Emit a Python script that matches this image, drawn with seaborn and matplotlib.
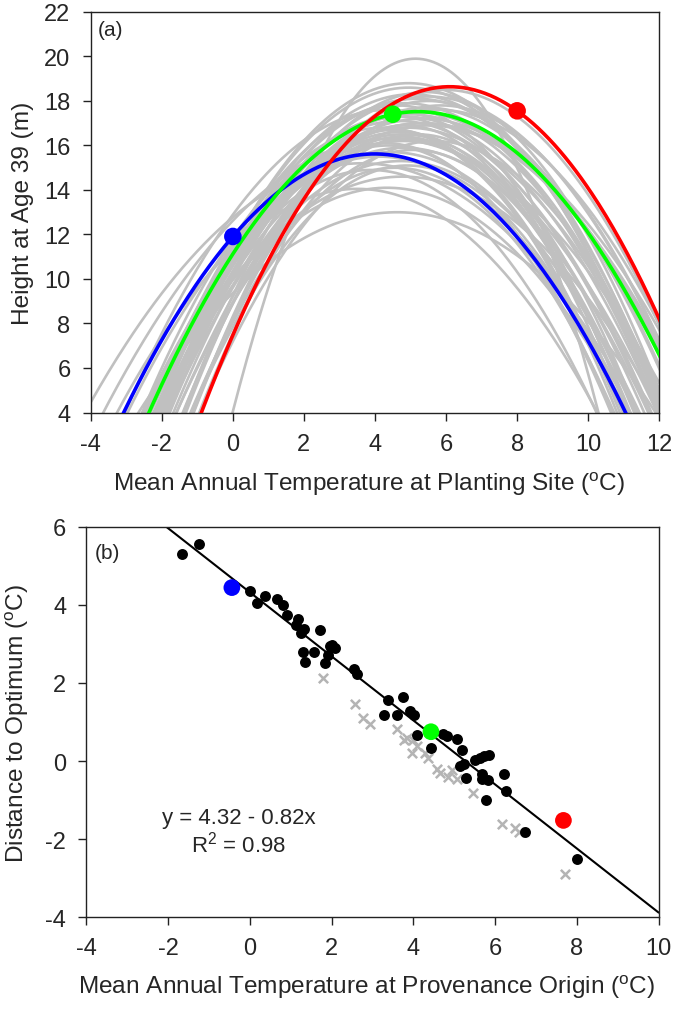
import numpy as np
import pandas as pd
import matplotlib
matplotlib.use("Agg")
import matplotlib.pyplot as plt
import seaborn as sns

# ---------------------------------------------------------------
# (a) quadratic height responses, one per provenance
#     optimum temperature, height at optimum, curvature
# ---------------------------------------------------------------
grey_opt = [3.62, 4.29, 4.34, 4.21, 4.59, 4.79, 4.77, 4.63, 4.81, 4.57,
            4.68, 4.51, 5.04, 4.11, 3.88, 4.36, 4.34, 4.84, 4.95, 4.98,
            4.62, 4.89, 4.83, 4.44, 4.94, 5.33, 4.76, 5.17, 5.17, 4.72,
            4.70, 5.34, 5.43, 5.14, 5.45, 4.91, 5.08, 4.82, 5.50, 5.67,
            5.79, 5.97, 5.35, 5.21, 3.50, 4.77, 5.86, 5.51, 4.92, 5.50,
            4.40]
grey_peak = [15.2, 16.1, 14.1, 16.8, 17.3, 15.9, 16.5, 17.8, 16.2, 15.0,
             17.1, 16.7, 18.3, 15.5, 14.9, 16.0, 17.6, 16.9, 18.6, 17.4,
             13.0, 16.3, 17.9, 15.7, 18.8, 17.0, 16.4, 18.1, 17.5, 15.3,
             16.6, 17.2, 18.4, 19.9, 17.7, 16.8, 15.8, 17.3, 18.0, 16.2,
             17.6, 18.5, 17.0, 16.5, 14.05, 14.6, 17.8, 16.9, 15.1, 18.2,
             16.3]
grey_curv = [0.185, 0.30, 0.22, 0.28, 0.31, 0.25, 0.27, 0.33, 0.24, 0.29,
             0.26, 0.32, 0.28, 0.23, 0.27, 0.30, 0.25, 0.34, 0.29, 0.26,
             0.17, 0.31, 0.27, 0.24, 0.30, 0.22, 0.33, 0.26, 0.28, 0.25,
             0.29, 0.23, 0.31, 0.60, 0.27, 0.24, 0.30, 0.26, 0.32, 0.28,
             0.25, 0.29, 0.21, 0.33, 0.22, 0.20, 0.28, 0.24, 0.30, 0.26,
             0.19]

hl_names = ["cold", "mid", "warm"]
hl_colors = ["#0000ff", "#00ff00", "#ff0000"]
hl_opt = [3.99, 5.2, 6.1]
hl_peak = [15.62, 17.52, 18.64]
hl_curv = [0.233, 0.2365, 0.30]
hl_site = [0.0, 4.5, 8.0]

# ---------------------------------------------------------------
# (b) distance to optimum vs provenance temperature
# ---------------------------------------------------------------
prov_temp = [-1.67, -1.24, 0.00, 0.18, 0.37, 0.66, 0.80, 0.90, 1.18, 1.12,
             1.32, 1.24, 1.71, 1.31, 1.35, 1.58, 1.84, 1.96, 2.00, 2.09,
             1.90, 2.54, 2.61, 3.28, 3.39, 3.74, 3.59, 3.92, 4.01, 4.08,
             4.42, 4.73, 4.83, 5.07, 5.20, 5.14, 5.24, 5.29, 5.51, 5.63,
             5.73, 5.84, 5.67, 5.69, 5.83, 5.77, 6.22, 6.26, 6.73, 8.01]
dist_opt = [5.30, 5.56, 4.36, 4.05, 4.23, 4.15, 4.00, 3.75, 3.64, 3.47,
            3.38, 3.28, 3.36, 2.80, 2.54, 2.78, 2.51, 2.94, 2.97, 2.89,
            2.72, 2.35, 2.22, 1.18, 1.57, 1.63, 1.18, 1.29, 1.18, 0.67,
            0.33, 0.69, 0.63, 0.56, 0.27, -0.12, -0.08, -0.44, 0.03, 0.07,
            0.12, 0.16, -0.33, -0.46, -0.48, -1.01, -0.33, -0.76, -1.81, -2.52]

x_temp = [1.80, 2.57, 2.77, 2.94, 3.59, 3.84, 3.78, 4.00, 4.08, 3.96,
          4.28, 4.36, 4.57, 4.65, 4.85, 4.94, 5.06, 5.46, 6.18, 6.48,
          6.59, 7.71]
x_dist = [2.12, 1.47, 1.09, 0.94, 0.82, 0.60, 0.55, 0.55, 0.39, 0.21,
          0.21, 0.09, -0.21, -0.30, -0.41, -0.24, -0.47, -0.83, -1.62, -1.72,
          -1.82, -2.89]

hl_prov_temp = [-0.44, 4.43, 7.67]
hl_dist = [4.44, 0.75, -1.52]

fit_intercept = 4.32
fit_slope = -0.82

# ---------------------------------------------------------------
sns.set_style("ticks")
plt.rcParams["font.family"] = ["Liberation Sans", "DejaVu Sans"]
plt.rcParams["mathtext.fontset"] = "custom"
plt.rcParams["mathtext.rm"] = "Liberation Sans"
plt.rcParams["mathtext.it"] = "Liberation Sans:italic"
plt.rcParams["axes.unicode_minus"] = False

TICK_FS = 17
LABEL_FS = 17.6

fig = plt.figure(figsize=(6.75, 10.12), dpi=100)
ax1 = fig.add_axes([0.1344, 0.5914, 0.8423, 0.3958])
ax2 = fig.add_axes([0.1279, 0.0926, 0.8479, 0.3860])

# ---------------------- panel (a) ----------------------
site = np.linspace(-4.5, 12.5, 341)
grey_rows = []
for i, (o, h, c) in enumerate(zip(grey_opt, grey_peak, grey_curv)):
    grey_rows.append(pd.DataFrame({"prov": i, "site": site,
                                   "height": h - c * (site - o) ** 2}))
grey_df = pd.concat(grey_rows, ignore_index=True)

sns.lineplot(data=grey_df, x="site", y="height", units="prov", estimator=None,
             color="#c0c0c0", lw=1.9, ax=ax1, legend=False, zorder=1)

hl_rows = []
pts_rows = []
for n, o, h, c, s in zip(hl_names, hl_opt, hl_peak, hl_curv, hl_site):
    hl_rows.append(pd.DataFrame({"name": n, "site": site,
                                 "height": h - c * (site - o) ** 2}))
    pts_rows.append({"name": n, "site": s, "height": h - c * (s - o) ** 2})
hl_df = pd.concat(hl_rows, ignore_index=True)
pts_df = pd.DataFrame(pts_rows)
pal = dict(zip(hl_names, hl_colors))

sns.lineplot(data=hl_df, x="site", y="height", hue="name", palette=pal,
             lw=2.6, ax=ax1, legend=False, zorder=3)
sns.scatterplot(data=pts_df, x="site", y="height", hue="name", palette=pal,
                s=160, linewidth=0, ax=ax1, legend=False, zorder=4)

ax1.set_xlim(-4, 12)
ax1.set_ylim(4, 22)
ax1.set_xticks(np.arange(-4, 13, 2))
ax1.set_yticks(np.arange(4, 23, 2))
ax1.set_xlabel(r"Mean Annual Temperature at Planting Site ($^{\rm o}$C)",
               fontsize=LABEL_FS, va="top")
ax1.set_ylabel("Height at Age 39 (m)", fontsize=LABEL_FS)
ax1.xaxis.set_label_coords(0.49, -0.143)
ax1.yaxis.set_label_coords(-0.099, 0.5)
ax1.text(0.013, 0.955, "(a)", transform=ax1.transAxes, fontsize=15,
         ha="left", va="center")

# ---------------------- panel (b) ----------------------
b_df = pd.DataFrame({"temp": prov_temp, "dist": dist_opt})
x_df = pd.DataFrame({"temp": x_temp, "dist": x_dist})
hlb_df = pd.DataFrame({"name": hl_names, "temp": hl_prov_temp, "dist": hl_dist})

line_x = np.array([-4.0, 10.0])
ax2.plot(line_x, fit_intercept + fit_slope * line_x, color="black", lw=1.5,
         zorder=2)
sns.scatterplot(data=x_df, x="temp", y="dist", marker="x", color="#b4b4b4",
                s=45, linewidth=1.8, ax=ax2, zorder=1)
sns.scatterplot(data=b_df, x="temp", y="dist", color="black", s=62,
                linewidth=0, ax=ax2, zorder=3)
sns.scatterplot(data=hlb_df, x="temp", y="dist", hue="name", palette=pal,
                s=145, linewidth=0, ax=ax2, legend=False, zorder=4)

ax2.text(-0.28, -1.45, "y = 4.32 - 0.82x", fontsize=16, ha="center", va="center")
ax2.text(-0.28, -2.12, r"R$^{\rm 2}$ = 0.98", fontsize=16, ha="center", va="center")
ax2.text(0.015, 0.935, "(b)", transform=ax2.transAxes, fontsize=15,
         ha="left", va="center")

ax2.set_xlim(-4, 10)
ax2.set_ylim(-4, 6)
ax2.set_xticks(np.arange(-4, 11, 2))
ax2.set_yticks(np.arange(-4, 7, 2))
ax2.set_xlabel(r"Mean Annual Temperature at Provenance Origin ($^{\rm o}$C)",
               fontsize=LABEL_FS, va="top")
ax2.set_ylabel(r"Distance to Optimum ($^{\rm o}$C)", fontsize=LABEL_FS)
ax2.xaxis.set_label_coords(0.49, -0.142)
ax2.yaxis.set_label_coords(-0.0966, 0.5)

for ax in (ax1, ax2):
    ax.tick_params(direction="out", length=5.5, width=1, labelsize=TICK_FS,
                   color="#222222", pad=9)
    for sp in ax.spines.values():
        sp.set_linewidth(1.0)
        sp.set_color("#222222")

fig.savefig("out.png", dpi=100)
